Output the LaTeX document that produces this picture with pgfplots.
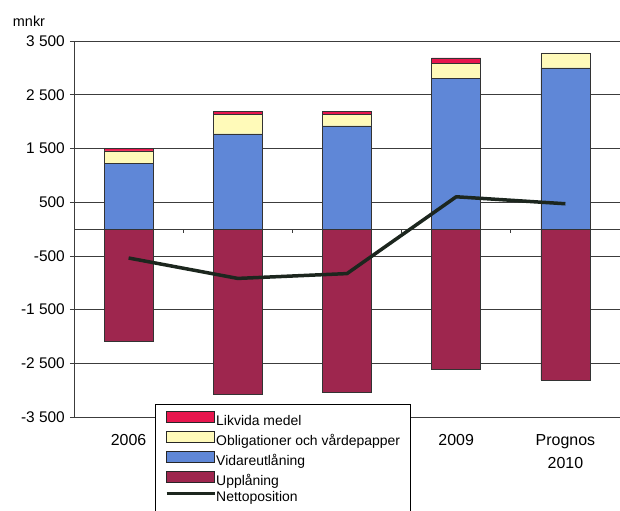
\documentclass[border=0pt]{standalone}
\usepackage{fontspec}
\setmainfont{Liberation Sans}
\usepackage{pgfplots}
\pgfplotsset{compat=1.18}

\definecolor{cLik}{RGB}{232,22,78}
\definecolor{cObl}{RGB}{255,250,185}
\definecolor{cVid}{RGB}{95,135,215}
\definecolor{cUpp}{RGB}{158,38,78}
\definecolor{cNet}{RGB}{28,38,30}
\definecolor{cGrid}{RGB}{60,60,60}

\pgfplotsset{
 common/.style={
   width=546bp, height=376bp, scale only axis,
   xmin=-0.5, xmax=4.5, ymin=-3500, ymax=3500,
 },
 barleg/.style={legend image code/.code={\draw[##1,draw=black!85,line width=0.6bp] (0bp,-1bp) rectangle (48bp,10bp);}},
 lineleg/.style={legend image code/.code={\draw[##1] (0bp,4.5bp) -- (48bp,4.5bp);}},
}

\begin{document}
\begin{tikzpicture}
\begin{axis}[common, name=ax,
  axis x line*=bottom, axis y line*=left, axis line style={-,cGrid, line width=0.7bp},
  ytick={-3500,-2500,-1500,-500,500,1500,2500,3500},
  yticklabels={-3 500,-2 500,-1 500,-500,500,1 500,2 500,3 500},
  extra y ticks={0}, extra y tick labels={},
  extra y tick style={major tick length=0pt, grid style={cGrid, line width=0.9bp}},
  ymajorgrids, grid style={cGrid, line width=0.7bp},
  tick align=outside, major tick length=4bp, tick style={cGrid, line width=0.7bp},
  yticklabel style={font=\fontsize{15.5}{17}\selectfont, inner sep=0pt, xshift=-5bp},
  xtick={0,3,4},
  xticklabels={2006,2009,{Prognos\\2010}},
  x tick style={draw=none},
  xticklabel style={font=\fontsize{16}{23}\selectfont, align=center, anchor=north, inner sep=0pt, yshift=-13bp},
  clip=false,
]
\addplot[ybar, bar width=49bp, bar shift=0pt, fill=cUpp, draw=black!80, line width=0.5bp] coordinates {(0,-2090) (1,-3085) (2,-3035) (3,-2605) (4,-2815)};
\draw[cGrid, line width=0.7bp] (axis cs:0.5,0) -- ([yshift=-4bp]axis cs:0.5,0);
\draw[cGrid, line width=0.7bp] (axis cs:1.5,0) -- ([yshift=-4bp]axis cs:1.5,0);
\draw[cGrid, line width=0.7bp] (axis cs:2.5,0) -- ([yshift=-4bp]axis cs:2.5,0);
\draw[cGrid, line width=0.7bp] (axis cs:3.5,0) -- ([yshift=-4bp]axis cs:3.5,0);
\node[font=\fontsize{14.5}{16}\selectfont, anchor=base, xshift=-45bp, yshift=14bp] at (rel axis cs:0,1) {mnkr};
\end{axis}

\begin{axis}[common, hide axis, ybar stacked, bar width=49bp]
\addplot[fill=cVid, draw=black!80, line width=0.5bp] coordinates {(0,1225) (1,1770) (2,1920) (3,2810) (4,3000)};
\addplot[fill=cObl, draw=black!80, line width=0.5bp] coordinates {(0,230) (1,360) (2,220) (3,280) (4,280)};
\addplot[fill=cLik, draw=black!80, line width=0.5bp] coordinates {(0,50) (1,60) (2,50) (3,95) (4,0)};
\end{axis}

\begin{axis}[common, hide axis,
  legend style={at={(axis description cs:0.148,0.0346)}, anchor=north west,
    draw=black, line width=0.8bp, fill=white,
    font=\fontsize{14}{16}\selectfont, inner xsep=10bp, inner ysep=7bp,
    row sep=3.2bp, nodes={inner sep=0pt, text height=10bp, text depth=3bp},
    /tikz/every even column/.style={column sep=5bp}},
  legend cell align=left,
]
\addplot[cNet, line width=3.5bp, line join=round, forget plot] coordinates {(0,-540) (1,-920) (2,-830) (3,600) (4,470)};
\addlegendimage{barleg, fill=cLik}
\addlegendimage{barleg, fill=cObl}
\addlegendimage{barleg, fill=cVid}
\addlegendimage{barleg, fill=cUpp}
\addlegendimage{lineleg, cNet, line width=3bp}
\legend{Likvida medel, Obligationer och vårdepapper, Vidareutlåning, Upplåning, Nettoposition}
\end{axis}

\pgfresetboundingbox
\path[use as bounding box] ([shift={(-74bp,-93bp)}]ax.south west) rectangle ([shift={(0bp,41bp)}]ax.north east);
\end{tikzpicture}
\end{document}
